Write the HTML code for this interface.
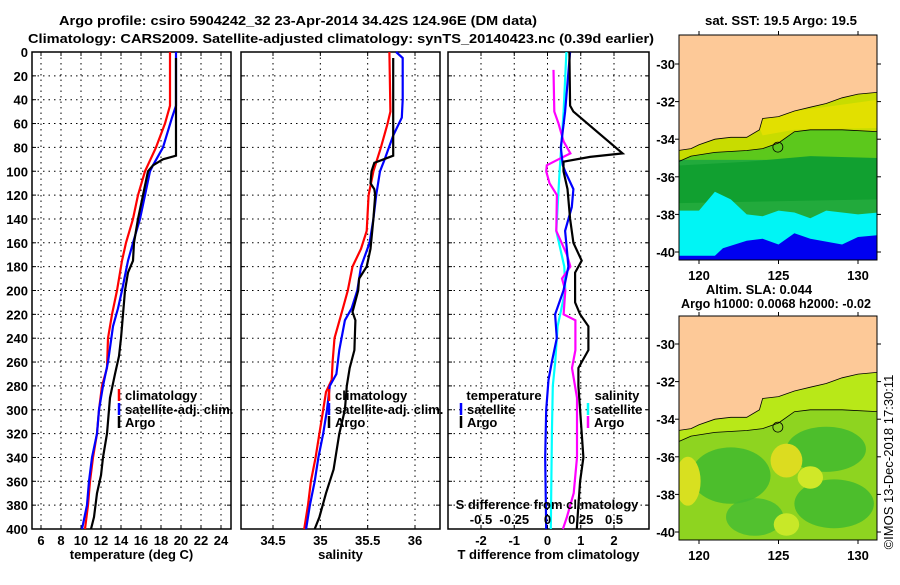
<!DOCTYPE html>
<html><head><meta charset="utf-8"><style>
body{margin:0;background:#fff;}
svg text{font-family:"Liberation Sans",sans-serif;font-weight:bold;font-size:13px;fill:#000;}
</style></head><body>
<svg id="chart" width="900" height="580" xmlns="http://www.w3.org/2000/svg">
<rect width="900" height="580" fill="#fff"/>
<text x="298" y="25" text-anchor="middle" textLength="478" lengthAdjust="spacingAndGlyphs">Argo profile: csiro 5904242_32 23-Apr-2014 34.42S 124.96E (DM data)</text>
<text x="341" y="43" text-anchor="middle" textLength="626" lengthAdjust="spacingAndGlyphs">Climatology: CARS2009. Satellite-adjusted climatology: synTS_20140423.nc (0.39d earlier)</text>
<text x="781" y="25" text-anchor="middle" textLength="152" lengthAdjust="spacingAndGlyphs">sat. SST: 19.5 Argo: 19.5</text>
<text x="759" y="294" text-anchor="middle">Altim. SLA: 0.044</text>
<text x="776" y="308" text-anchor="middle" textLength="190" lengthAdjust="spacingAndGlyphs">Argo h1000: 0.0068 h2000: -0.02</text>
<text transform="translate(893,462) rotate(-90)" text-anchor="middle" style="font-weight:normal">©IMOS 13-Dec-2018 17:30:11</text>
<g id="g"></g>
</svg>
<script>
// depth axis
const depthTicks=[0,20,40,60,80,100,120,140,160,180,200,220,240,260,280,300,320,340,360,380,400];
// temperature panel
const tTicks=[6,8,10,12,14,16,18,20,22,24];
const climTDepth=[0,45,60,80,100,120,140,160,175,200,220,240,265,280,300,320,340,360,380,400];
const climT=[18.9,18.9,18.4,17.5,16.4,15.7,15.2,14.5,14.1,13.6,13.1,12.7,12.6,12.1,11.8,11.6,11.2,10.9,10.7,10.4];
const satTDepth=[0,45,55,80,95,100,120,140,160,175,200,215,230,260,280,300,320,340,360,380,400];
const satT=[19.5,19.5,19.1,18.2,17.2,16.9,16.4,15.9,15.2,14.7,14.1,13.7,13.2,12.7,12.2,11.8,11.6,11.1,10.8,10.6,10.1];
const argoTDepth=[5,87,90,95,100,120,140,160,175,185,200,220,240,255,270,290,320,340,355,370,390,400];
const argoT=[19.5,19.5,18.2,17.2,16.7,16.2,15.7,15.3,15.2,14.7,14.4,14.2,14.0,13.8,13.4,12.9,12.6,12.2,12.0,11.6,11.3,11.0];
// salinity panel
const sTicks=[34.5,35,35.5,36];
const sTickLabels=["34.5","35","35.5","36"];
const climSDepth=[0,50,60,80,100,120,150,165,180,200,220,240,260,275,285,300,320,340,360,380,400];
const climS=[35.73,35.74,35.71,35.64,35.56,35.51,35.49,35.43,35.34,35.29,35.22,35.15,35.13,35.12,35.06,35.03,34.99,34.95,34.90,34.87,34.83];
const satSDepth=[0,5,40,55,70,90,100,120,140,160,180,200,215,225,250,270,280,300,320,340,360,380,400];
const satS=[35.80,35.87,35.87,35.86,35.77,35.68,35.63,35.59,35.56,35.52,35.43,35.39,35.33,35.26,35.20,35.17,35.10,35.07,35.03,34.98,34.94,34.89,34.85];
const argoSDepth=[5,87,93,100,110,115,120,140,165,180,190,200,215,218,225,250,265,280,300,320,350,370,390,400];
const argoS=[35.77,35.77,35.57,35.54,35.53,35.57,35.58,35.56,35.53,35.49,35.41,35.40,35.35,35.34,35.37,35.36,35.31,35.28,35.26,35.20,35.14,35.06,34.99,34.94];
// difference panel
const dTicks=[-2,-1,0,1,2];
const sdTicks=[-0.5,-0.25,0,0.25,0.5];
const sdTickLabels=["-0.5","-0.25","0","0.25","0.5"];
const satDTDepth=[0,50,80,95,100,115,130,150,165,180,200,220,240,260,275,300,340,400];
const satDT=[0.68,0.53,0.40,0.46,0.53,0.78,0.73,0.53,0.58,0.63,0.48,0.23,0.28,0.13,0.03,-0.04,-0.07,-0.04];
const argoDTDepth=[0,45,50,85,88,92,100,115,140,160,175,185,210,220,230,250,265,280,300,340,360,380,400];
const argoDT=[0.66,0.68,0.78,2.26,1.28,0.48,0.48,0.60,0.68,0.78,1.03,0.83,0.83,0.98,1.23,1.23,0.93,0.93,0.98,1.08,0.98,0.93,0.88];
const satDSDepth=[0,50,100,150,180,200,230,260,280,320,400];
const satDS=[0.142,0.121,0.091,0.066,0.126,0.134,0.076,0.058,0.040,0.033,0.025];
const argoDSDepth=[15,50,60,75,85,90,95,100,110,120,150,170,180,190,200,220,225,250,265,290,340,370,390,400];
const argoDS=[0.045,0.051,0.083,0.121,0.172,0.083,-0.005,-0.010,0.015,0.071,0.066,0.146,0.172,0.109,0.134,0.121,0.210,0.210,0.184,0.222,0.222,0.197,0.146,0.116];

const NS="http://www.w3.org/2000/svg";
const G=document.getElementById('g');
function mk(tag,attrs,parent){const e=document.createElementNS(NS,tag);for(const k in attrs)e.setAttribute(k,attrs[k]);(parent||G).appendChild(e);return e;}
const yTop=52,yBot=529;
const yD=d=>yTop+d*(yBot-yTop)/400;
const xT=v=>41+(v-6)*10;
const xS=v=>273+(v-34.5)*94.67;
const xDT=v=>547.5+v*33.25;
const xDS=v=>547.5+v*133;

function panel(name,x0,x1,ticks,xf,labels,title,showDepth){
  const g=mk('g',{});
  
  
  depthTicks.forEach(d=>{
    const l=mk('line',{x1:x0,x2:x1,y1:yD(d),y2:yD(d),stroke:'#000','stroke-width':1,'stroke-dasharray':'1.5,4'},g);
    
    
    mk('line',{x1:x0,x2:x0+4,y1:yD(d),y2:yD(d),stroke:'#000'},g);
    mk('line',{x1:x1-4,x2:x1,y1:yD(d),y2:yD(d),stroke:'#000'},g);
    if(showDepth){const t=mk('text',{x:28,y:yD(d)+5,'text-anchor':'end'},g);t.textContent=d;
      
      }
  });
  ticks.forEach((v,i)=>{
    const x=xf(v);
    const l=mk('line',{x1:x,x2:x,y1:yTop,y2:yBot,stroke:'#000','stroke-dasharray':'1.5,4'},g);
    
    
    mk('line',{x1:x,x2:x,y1:yTop,y2:yTop+4,stroke:'#000'},g);
    mk('line',{x1:x,x2:x,y1:yBot-4,y2:yBot,stroke:'#000'},g);
    const t=mk('text',{x:x,y:545,'text-anchor':'middle'},g);t.textContent=labels[i];
    
    
  });
  mk('rect',{x:x0,y:yTop,width:x1-x0,height:yBot-yTop,fill:'none',stroke:'#000','stroke-width':1.5},g);
  const t=mk('text',{x:(x0+x1)/2,y:559,'text-anchor':'middle'},g);t.textContent=title;
  
  
}
function line(name,ds,vs,xf,col){
  const p=ds.map((d,i)=>xf(vs[i]).toFixed(1)+','+yD(d).toFixed(1)).join(' ');
  const e=mk('polyline',{points:p,fill:'none',stroke:col,'stroke-width':2.2});
  
  
}
function legend(x,y,col,label){
  mk('line',{x1:x,x2:x,y1:y-11,y2:y+1,stroke:col,'stroke-width':2.5});
  const t=mk('text',{x:x+6,y:y});t.textContent=label;
  
  
}
panel('temperature-panel',32,231,tTicks,xT,tTicks.map(String),'temperature (deg C)',true);
panel('salinity-panel',241,440,sTicks,xS,sTickLabels,'salinity',false);
panel('difference-panel',448,649,dTicks,xDT,dTicks.map(String),'T difference from climatology',false);
line('climatology-temperature-line',climTDepth,climT,xT,'#f00');
line('satellite-temperature-line',satTDepth,satT,xT,'#00f');
line('argo-temperature-line',argoTDepth,argoT,xT,'#000');
line('climatology-salinity-line',climSDepth,climS,xS,'#f00');
line('satellite-salinity-line',satSDepth,satS,xS,'#00f');
line('argo-salinity-line',argoSDepth,argoS,xS,'#000');
line('satellite-s-diff-line',satDSDepth,satDS,xDS,'#0ff');
line('argo-s-diff-line',argoDSDepth,argoDS,xDS,'#f0f');
line('satellite-t-diff-line',satDTDepth,satDT,xDT,'#00f');
line('argo-t-diff-line',argoDTDepth,argoDT,xDT,'#000');
legend(119,400,'#f00','climatology');legend(119,414,'#00f','satellite-adj. clim.');legend(119,427,'#000','Argo');
legend(329,400,'#f00','climatology');legend(329,414,'#00f','satellite-adj. clim.');legend(329,427,'#000','Argo');
{const t=mk('text',{x:504,y:400,'text-anchor':'middle'});t.textContent='temperature';
}
legend(461,414,'#00f','satellite');legend(461,427,'#000','Argo');
{const t=mk('text',{x:617,y:400,'text-anchor':'middle'});t.textContent='salinity';
}
legend(588,414,'#0ff','satellite');legend(588,427,'#f0f','Argo');
{const t=mk('text',{x:547,y:509,'text-anchor':'middle'});t.textContent='S difference from climatology';
}
sdTicks.forEach((v,i)=>{const t=mk('text',{x:xDS(v),y:524,'text-anchor':'middle'});t.textContent=sdTickLabels[i];
});

// maps
const lonTicks=[120,125,130];
const latTicks=[-30,-32,-34,-36,-38,-40];
const coast=[[118.7,-34.6],[119.5,-34.5],[120,-34.3],[121,-34.0],[122,-33.9],[123,-33.9],[123.8,-33.5],[124,-32.9],[125,-32.8],[126,-32.5],[127,-32.3],[128,-32.1],[129,-31.8],[130,-31.6],[131.3,-31.5]];
const shelf=[[118.7,-35.2],[119.5,-34.9],[121,-34.7],[123,-34.6],[124,-34.5],[125,-34.2],[126,-33.6],[127,-33.5],[129,-33.5],[131.3,-33.6]];
function map(name,top,bot,lat30,water,layers,clip){
  const g=mk('g',{});
  
  
  const X=l=>699+(l-120)*15.9, Y=a=>lat30+(-30-a)*18.8;
  const x0=679,x1=877;
  mk('clipPath',{id:clip},g).appendChild(document.createElementNS(NS,'rect'));
  const cr=g.querySelector('clipPath rect');cr.setAttribute('x',x0);cr.setAttribute('y',top);cr.setAttribute('width',x1-x0);cr.setAttribute('height',bot-top);
  const inner=mk('g',{'clip-path':'url(#'+clip+')'},g);
  mk('rect',{x:x0,y:top,width:x1-x0,height:bot-top,fill:water},inner);
  const pts=a=>a.map(p=>X(p[0]).toFixed(1)+','+Y(p[1]).toFixed(1)).join(' ');
  layers.forEach(L=>{
    if(L.poly) mk('polygon',{points:pts(L.poly),fill:L.fill},inner);
    else mk('ellipse',{cx:X(L.e[0]),cy:Y(L.e[1]),rx:L.e[2]*15.9,ry:L.e[3]*18.8,fill:L.fill,opacity:L.op||1},inner);
  });
  const land=coast.concat([[131.3,-25],[118.7,-25]]);
  mk('polygon',{points:pts(land),fill:'#fdc998',stroke:'#000','stroke-width':0.8},inner);
  mk('polyline',{points:pts(shelf),fill:'none',stroke:'#000','stroke-width':0.8},inner);
  mk('circle',{cx:X(124.96),cy:Y(-34.42),r:5,fill:'none',stroke:'#000','stroke-width':0.8},inner);
  mk('rect',{x:x0,y:top,width:x1-x0,height:bot-top,fill:'none',stroke:'#000','stroke-width':1},g);
  lonTicks.forEach(l=>{mk('line',{x1:X(l),x2:X(l),y1:top-4,y2:top,stroke:'#000'},g);mk('line',{x1:X(l),x2:X(l),y1:bot,y2:bot+4,stroke:'#000'},g);
    const t=mk('text',{x:X(l),y:bot+20,'text-anchor':'middle'},g);t.textContent=l;
    });
  latTicks.forEach(a=>{mk('line',{x1:x0-4,x2:x0,y1:Y(a),y2:Y(a),stroke:'#000'},g);mk('line',{x1:x1,x2:x1+4,y1:Y(a),y2:Y(a),stroke:'#000'},g);
    const t=mk('text',{x:675,y:Y(a)+5,'text-anchor':'end'},g);t.textContent=a;
    });
}
map('sst-map',35,260,64,'#5cc81c',[
  {poly:coast.concat(shelf.slice().reverse()),fill:'#c8dc00'},
  {poly:[[123.5,-32.8],[131.3,-31.9],[131.3,-33.4],[126,-33.5],[124,-33.8]],fill:'#e2e000'},
  {poly:[[118.7,-35.1],[131.3,-35.1],[131.3,-38.5],[118.7,-38.5]],fill:'#22aa3c'},
  {poly:[[118.7,-35.4],[123,-35.2],[127,-34.9],[131.3,-35.0],[131.3,-37.2],[118.7,-37.4]],fill:'#11a030'},
  {poly:[[118.7,-37.8],[120,-37.8],[121,-36.8],[122,-37.2],[123,-38],[124,-38.1],[125,-37.8],[126,-37.9],[127,-38.2],[128,-37.8],[129,-37.9],[130,-38],[131.3,-37.9],[131.3,-41],[118.7,-41]],fill:'#00f5f5'},
  {poly:[[118.7,-40.2],[121,-40.2],[121.5,-39.8],[123,-39.4],[124,-39.3],[125,-39.6],[126,-39.0],[127,-39.3],[129,-39.6],[130,-39.2],[131.3,-39.1],[131.3,-41],[118.7,-41]],fill:'#0000f0'}
],'c1');
map('sla-map',316,540,344,'#8ed420',[
  {poly:coast.concat(shelf.slice().reverse()),fill:'#b8e818'},
  {e:[122,-37,2.5,1.5],fill:'#3cb830',op:0.8},
  {e:[128,-35.6,2.5,1.2],fill:'#3cb830',op:0.8},
  {e:[128.5,-38.5,2.5,1.3],fill:'#3cb830',op:0.8},
  {e:[123.5,-39.2,1.8,1.0],fill:'#44bb33',op:0.8},
  {e:[125.5,-36.2,1.0,0.9],fill:'#dcdc20'},
  {e:[119.3,-37.3,0.8,1.3],fill:'#d8e020'},
  {e:[127,-37.1,0.8,0.6],fill:'#d0e828'},
  {e:[125.5,-39.6,0.8,0.6],fill:'#c8e828'}
],'c2');
</script>
</body></html>
